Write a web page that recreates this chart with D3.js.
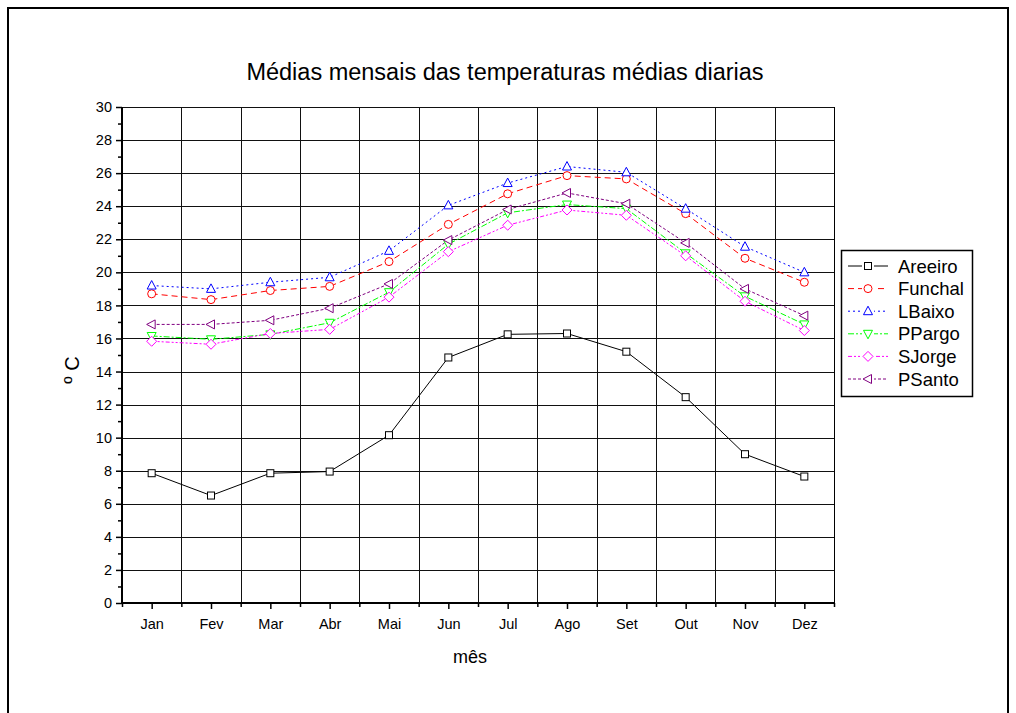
<!DOCTYPE html>
<html><head><meta charset="utf-8">
<script src="https://cdn.jsdelivr.net/npm/d3@7/dist/d3.min.js"></script>
<style>body{margin:0;background:#fff}svg{display:block;font-family:"Liberation Sans",Arial,sans-serif}</style>
</head><body><svg id="c" width="1016" height="713"></svg>
<script>
const months = ["Jan","Fev","Mar","Abr","Mai","Jun","Jul","Ago","Set","Out","Nov","Dez"];
const yTicks = [0,2,4,6,8,10,12,14,16,18,20,22,24,26,28,30];
const areeiro = [7.85,6.5,7.85,7.95,10.15,14.85,16.25,16.3,15.2,12.45,9.0,7.65];
const funchal = [18.7,18.35,18.9,19.15,20.65,22.9,24.75,25.85,25.65,23.55,20.85,19.4];
const lbaixo  = [19.2,19.0,19.4,19.7,21.3,24.05,25.4,26.4,26.05,23.85,21.55,20.0];
const ppargo  = [16.15,15.95,16.25,16.95,18.8,21.7,23.6,24.1,23.85,21.15,18.55,16.85];
const sjorge  = [15.83,15.65,16.3,16.55,18.5,21.25,22.85,23.77,23.45,21.0,18.25,16.48];
const psanto  = [16.85,16.85,17.1,17.83,19.3,21.95,23.8,24.8,24.15,21.78,19.0,17.38];
const seriesNames = ["Areeiro","Funchal","LBaixo","PPargo","SJorge","PSanto"];
const seriesData = [areeiro,funchal,lbaixo,ppargo,sjorge,psanto];
const colors = ["#000000","#ff0000","#0000ff","#00ff00","#ff00ff","#800080"];
const dashes = [null,"6,4","2,3","6,2,2,2","4,2,2,2,2,2","3,2"];
const shapes = ["square","circle","up","down","diamond","left"];

const svg = d3.select("#c");
svg.append("rect").attr("x",8).attr("y",8).attr("width",1000).attr("height",720)
  .attr("fill","none").attr("stroke","#000").attr("stroke-width",2);

const L=122,R=834,T=107,B=603;
const x = d3.scaleLinear().domain([0.5,12.5]).range([L,R]);
const y = d3.scaleLinear().domain([0,30]).range([B,T]);

const g = svg.append("g");
g.selectAll(".hg").data(yTicks).enter().append("line")
  .attr("x1",L).attr("x2",R).attr("y1",d=>Math.round(y(d))+0.5).attr("y2",d=>Math.round(y(d))+0.5)
  .attr("stroke","#111").attr("stroke-width",1);
const bounds = d3.range(0.5,13,1);
g.selectAll(".vg").data(bounds).enter().append("line")
  .attr("y1",T).attr("y2",B).attr("x1",d=>Math.round(x(d))+0.5).attr("x2",d=>Math.round(x(d))+0.5)
  .attr("stroke","#111").attr("stroke-width",1);

const yAxis = d3.axisLeft(y).tickValues(yTicks).tickSize(6).tickPadding(4).tickFormat(d3.format("d"));
const ya = svg.append("g").attr("transform",`translate(${L},0)`).call(yAxis);
const yMinor = d3.axisLeft(y).tickValues(d3.range(1,30,2)).tickSize(4).tickFormat("");
svg.append("g").attr("transform",`translate(${L},0)`).call(yMinor).select(".domain").remove();
const xAxis = d3.axisBottom(x).tickValues(d3.range(1,13)).tickSize(6).tickPadding(10).tickFormat(d=>months[d-1]);
const xa = svg.append("g").attr("transform",`translate(0,${B})`).call(xAxis);
const xMinor = d3.axisBottom(x).tickValues(bounds).tickSize(4).tickFormat("");
svg.append("g").attr("transform",`translate(0,${B})`).call(xMinor).select(".domain").remove();
svg.selectAll(".tick text").attr("font-size",14.5).attr("fill","#000").attr("font-family","Liberation Sans, Arial");
svg.selectAll(".tick line").attr("stroke","#000").attr("stroke-width",1.5);
svg.selectAll(".domain").attr("stroke","#000").attr("stroke-width",2);
ya.select(".domain").attr("d",`M0,${B}V${T}`);
xa.select(".domain").attr("d",`M${L},0H${R}`);
svg.append("line").attr("x1",R+0.5).attr("x2",R+0.5).attr("y1",T).attr("y2",B).attr("stroke","#000").attr("stroke-width",1);

function marker(sel, shape, color){
  const s=4;
  let el;
  if(shape==="square") el=sel.append("rect").attr("x",-3.5).attr("y",-3.5).attr("width",7).attr("height",7);
  else if(shape==="circle") el=sel.append("circle").attr("r",4);
  else {
    let pts;
    if(shape==="up") pts=[[0,-s-1],[s+0.5,s-0.5],[-s-0.5,s-0.5]];
    if(shape==="down") pts=[[0,s+1],[s+0.5,-s+0.5],[-s-0.5,-s+0.5]];
    if(shape==="left") pts=[[-s-1,0],[s-0.5,-s-0.5],[s-0.5,s+0.5]];
    if(shape==="diamond") pts=[[0,-s-1],[s+1,0],[0,s+1],[-s-1,0]];
    el=sel.append("polygon").attr("points",pts.map(p=>p.join(",")).join(" "));
  }
  el.attr("fill","#fff").attr("stroke",color).attr("stroke-width",1);
}

const line = d3.line().x((d,i)=>x(i+1)).y(d=>y(d));
seriesData.forEach((data,k)=>{
  svg.append("path").datum(data).attr("d",line).attr("fill","none")
    .attr("stroke",colors[k]).attr("stroke-width",1).attr("stroke-dasharray",dashes[k]);
});
seriesData.forEach((data,k)=>{
  data.forEach((v,i)=>{
    const m = svg.append("g").attr("transform",`translate(${x(i+1)},${y(v)})`);
    marker(m, shapes[k], colors[k]);
  });
});

svg.append("text").attr("x",505).attr("y",80).attr("text-anchor","middle").attr("font-size",23.5)
  .text("Médias mensais das temperaturas médias diarias");
svg.append("text").attr("x",470).attr("y",663).attr("text-anchor","middle").attr("font-size",18).text("mês");
svg.append("text").attr("transform","translate(79,370) rotate(-90)").attr("text-anchor","middle").attr("font-size",20).text("º C");

const lg = svg.append("g");
lg.append("rect").attr("x",841.5).attr("y",250.5).attr("width",131).attr("height",146).attr("fill","#fff").attr("stroke","#000").attr("stroke-width",1.5);
seriesNames.forEach((n,k)=>{
  const yy = 266 + k*22.6;
  lg.append("line").attr("x1",848).attr("x2",888).attr("y1",yy).attr("y2",yy)
    .attr("stroke",colors[k]).attr("stroke-dasharray",dashes[k]);
  const m = lg.append("g").attr("transform",`translate(868,${yy})`);
  m.append("rect").attr("x",-6).attr("y",-6).attr("width",12).attr("height",12).attr("fill","#fff").attr("stroke","none");
  marker(m, shapes[k], colors[k]);
  lg.append("text").attr("x",898).attr("y",yy+6.5).attr("font-size",18.5).text(n);
});
</script></body></html>
